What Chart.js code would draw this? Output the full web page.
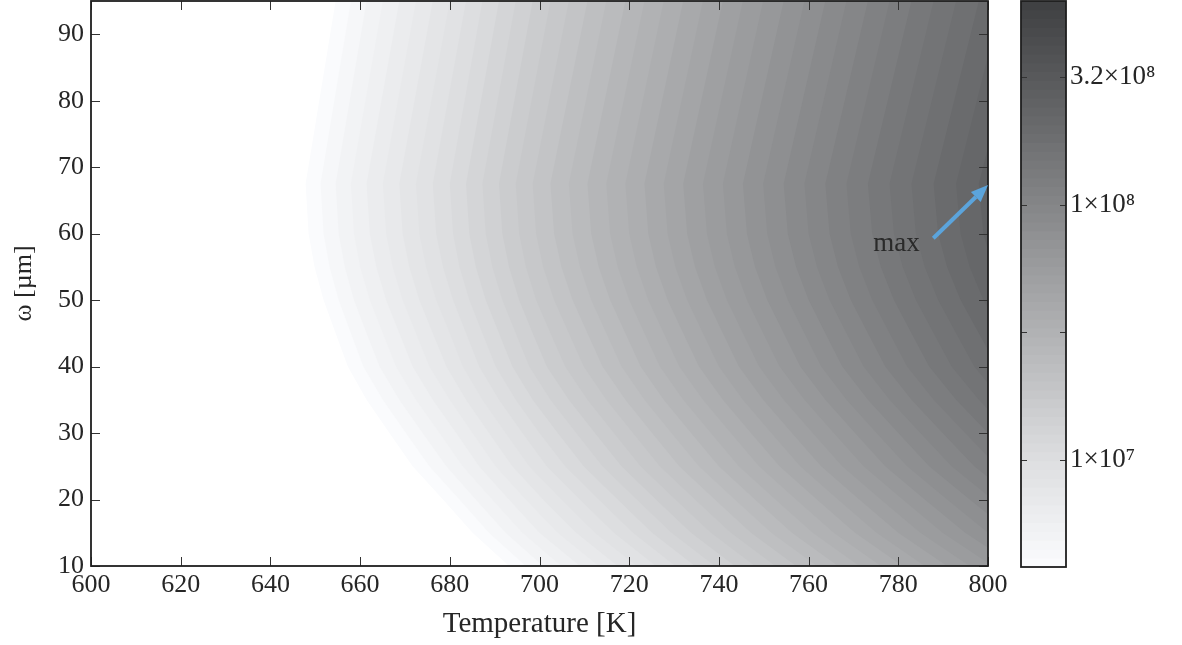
<!DOCTYPE html>
<html>
<head>
<meta charset="utf-8">
<script src="https://cdn.jsdelivr.net/npm/chart.js@4.4.0/dist/chart.umd.min.js"></script>
<style>
  body { margin: 0; background: #fff; }
  #main { position: absolute; left: 0; top: 0; }
  #cbar { position: absolute; left: 1000px; top: 0; }
</style>
</head>
<body>
<canvas id="main" width="1020" height="645"></canvas>
<canvas id="cbar" width="182" height="645"></canvas>
<script>
// log10 of the rate along the ridge (omega = 67.5 um)
const tempK = [600, 620, 640, 660, 680, 700, 720, 740, 760, 780, 800];
const logRatePeak = [5.84, 6.17, 6.48, 6.78, 7.05, 7.32, 7.56, 7.79, 8.01, 8.22, 8.42];
// drop of log10 rate away from the ridge
const omegaUm = [10, 15, 20, 25, 30, 35, 40, 45, 50, 55, 60, 67.5, 95];
const logDrop = [-0.63, -0.52, -0.43, -0.34, -0.27, -0.20, -0.14, -0.10, -0.06, -0.03, -0.01, 0, -0.10];

// contour levels (log10)
const levelFirst = 6.60;
const levelStep = 0.05;
const levelCount = 45;

// gray map, log10 value -> gray
const cmapLog = [6.58, 7.0, 7.5, 8.0, 8.5, 8.8];
const cmapGray = [251, 221, 177, 133, 88, 63];
const cbarRange = [3.8e6, 6.3e8];
const cbarColors = 64;

const xTicks = [600, 620, 640, 660, 680, 700, 720, 740, 760, 780, 800];
const yTicks = [10, 20, 30, 40, 50, 60, 70, 80, 90];
const cbarTicks = [1e7, 3.1623e7, 1e8, 3.1623e8];
const cbarLabels = ['1×10⁷', '', '1×10⁸', '3.2×10⁸'];

const arrowFrom = [787.8, 59.3];
const arrowTo = [800, 67.3];
const maxLabelAt = [784.8, 57.4];

Chart.defaults.font.family = "'Liberation Serif', 'DejaVu Serif', serif";
Chart.defaults.font.size = 26;
Chart.defaults.color = '#262626';

function interp(xs, ys, v) {
  let i = 0;
  while (i < xs.length - 2 && v > xs[i + 1]) i++;
  return ys[i] + (v - xs[i]) * (ys[i + 1] - ys[i]) / (xs[i + 1] - xs[i]);
}

// temperature where the ridge rate reaches a log10 value (linear in 1/T)
const invT = tempK.map(t => 1 / t);
function tempAt(logValue) {
  return 1 / interp(logRatePeak, invT, logValue);
}

function grayFor(L) {
  const c = Math.max(cmapLog[0], Math.min(cmapLog[cmapLog.length - 1], L));
  const g = Math.round(interp(cmapLog, cmapGray, c));
  return 'rgb(' + g + ',' + Math.min(255, g + 1) + ',' + Math.min(255, g + 3) + ')';
}

function noPad(s) {
  s.paddingTop = 0; s.paddingBottom = 0; s.paddingLeft = 0; s.paddingRight = 0;
}

// one filled curve per level, highest level first so it ends up on top
const datasets = [];
for (let k = levelCount - 1; k >= 0; k--) {
  const L = levelFirst + k * levelStep;
  datasets.push({
    data: omegaUm.map((w, j) => ({ x: tempAt(L - logDrop[j]), y: w })),
    backgroundColor: grayFor(L),
    borderColor: 'rgba(0,0,0,0)',
    borderWidth: 0,
    pointRadius: 0,
    tension: 0,
    fill: { value: 800 }
  });
}

const frameTicks = {
  id: 'frameTicks',
  afterDatasetsDraw(chart) {
    const { ctx, chartArea: a, scales: { x, y } } = chart;
    ctx.save();
    ctx.strokeStyle = '#333';
    ctx.lineWidth = 1;
    ctx.beginPath();
    xTicks.forEach(v => {
      const px = Math.round(x.getPixelForValue(v)) + 0.5;
      ctx.moveTo(px, a.bottom); ctx.lineTo(px, a.bottom - 9);
      ctx.moveTo(px, a.top); ctx.lineTo(px, a.top + 9);
    });
    yTicks.forEach(v => {
      const py = Math.round(y.getPixelForValue(v)) + 0.5;
      ctx.moveTo(a.left, py); ctx.lineTo(a.left + 9, py);
      ctx.moveTo(a.right, py); ctx.lineTo(a.right - 9, py);
    });
    ctx.stroke();
    ctx.strokeStyle = '#1e1e1e';
    ctx.lineWidth = 1.8;
    ctx.strokeRect(a.left, a.top, a.right - a.left, a.bottom - a.top);

    // annotation arrow
    const x0 = x.getPixelForValue(arrowFrom[0]), y0 = y.getPixelForValue(arrowFrom[1]);
    const x1 = x.getPixelForValue(arrowTo[0]), y1 = y.getPixelForValue(arrowTo[1]);
    const ang = Math.atan2(y1 - y0, x1 - x0);
    const head = 17, half = 7;
    const bx = x1 - head * Math.cos(ang), by = y1 - head * Math.sin(ang);
    ctx.strokeStyle = '#5ba4dc';
    ctx.fillStyle = '#5ba4dc';
    ctx.lineWidth = 4;
    ctx.beginPath();
    ctx.moveTo(x0, y0); ctx.lineTo(bx, by);
    ctx.stroke();
    ctx.beginPath();
    ctx.moveTo(x1, y1);
    ctx.lineTo(bx + half * Math.sin(ang), by - half * Math.cos(ang));
    ctx.lineTo(bx - half * Math.sin(ang), by + half * Math.cos(ang));
    ctx.closePath();
    ctx.fill();

    ctx.fillStyle = '#2a2a2a';
    ctx.font = "27px 'Liberation Serif', serif";
    ctx.textAlign = 'right';
    ctx.textBaseline = 'alphabetic';
    ctx.fillText('max', x.getPixelForValue(maxLabelAt[0]), y.getPixelForValue(maxLabelAt[1]));
    ctx.restore();
  }
};

new Chart(document.getElementById('main'), {
  type: 'line',
  data: { datasets: datasets },
  options: {
    indexAxis: 'y',
    responsive: false,
    animation: false,
    layout: { padding: { top: 1, right: 32, left: 0, bottom: 0 } },
    plugins: { legend: { display: false }, tooltip: { enabled: false } },
    scales: {
      x: {
        type: 'linear', min: 600, max: 800,
        afterBuildTicks: s => { s.ticks = xTicks.map(v => ({ value: v })); },
        afterFit: s => { s.height = 79; noPad(s); },
        grid: { display: false, drawTicks: false },
        border: { display: false },
        ticks: { padding: 4, autoSkip: false, maxRotation: 0 },
        title: { display: true, text: 'Temperature [K]', font: { size: 29 }, padding: { top: 0, bottom: 3 } }
      },
      y: {
        type: 'linear', min: 10, max: 95,
        afterBuildTicks: s => { s.ticks = yTicks.map(v => ({ value: v })); },
        afterFit: s => { s.width = 91; noPad(s); },
        grid: { display: false, drawTicks: false },
        border: { display: false },
        ticks: { padding: 7, autoSkip: false },
        title: { display: true, text: 'ω [µm]', font: { size: 26 }, padding: { top: 9, bottom: 0 } }
      }
    }
  },
  plugins: [frameTicks]
});

// colorbar
const cbLo = Math.log10(cbarRange[0]), cbHi = Math.log10(cbarRange[1]);
const cbStep = (cbHi - cbLo) / cbarColors;
const cbSets = [];
for (let i = cbarColors - 1; i >= 0; i--) {
  cbSets.push({
    data: [[10 ** (cbLo + i * cbStep), cbarRange[1]]],
    backgroundColor: grayFor(cbLo + (i + 0.5) * cbStep),
    borderWidth: 0,
    barPercentage: 1,
    categoryPercentage: 1,
    grouped: false
  });
}

const cbarFrame = {
  id: 'cbarFrame',
  afterDatasetsDraw(chart) {
    const { ctx, chartArea: a, scales: { y } } = chart;
    ctx.save();
    ctx.strokeStyle = '#333';
    ctx.lineWidth = 1;
    ctx.beginPath();
    cbarTicks.forEach(v => {
      const py = Math.round(y.getPixelForValue(v)) + 0.5;
      ctx.moveTo(a.left, py); ctx.lineTo(a.left + 6, py);
      ctx.moveTo(a.right, py); ctx.lineTo(a.right - 6, py);
    });
    ctx.stroke();
    ctx.strokeStyle = '#1e1e1e';
    ctx.lineWidth = 1.8;
    ctx.strokeRect(a.left, a.top, a.right - a.left, a.bottom - a.top);
    ctx.restore();
  }
};

new Chart(document.getElementById('cbar'), {
  type: 'bar',
  data: { labels: ['c'], datasets: cbSets },
  options: {
    responsive: false,
    animation: false,
    layout: { padding: { top: 1, right: 0, left: 21, bottom: 78 } },
    plugins: { legend: { display: false }, tooltip: { enabled: false } },
    scales: {
      x: { display: false },
      y: {
        type: 'logarithmic', position: 'right',
        min: cbarRange[0], max: cbarRange[1],
        afterBuildTicks: s => { s.ticks = cbarTicks.map(v => ({ value: v })); },
        afterFit: s => { s.width = 116; noPad(s); },
        grid: { display: false, drawTicks: false },
        border: { display: false },
        ticks: { padding: 4, autoSkip: false, font: { size: 27 }, callback: (v, i) => cbarLabels[i] }
      }
    }
  },
  plugins: [cbarFrame]
});
</script>
</body>
</html>
